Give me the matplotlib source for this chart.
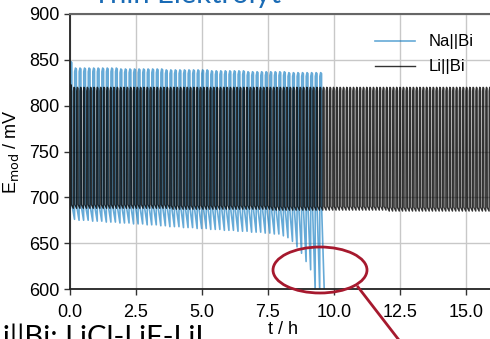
import numpy as np
import matplotlib
matplotlib.use("Agg")
import matplotlib.pyplot as plt
from matplotlib.patches import Ellipse
from matplotlib.lines import Line2D

plt.rcParams['font.family'] = ['Liberation Sans', 'DejaVu Sans']

# Na||Bi: one entry per charge/discharge cycle (mV)
na_period = 0.172  # h
na_top = [848, 841, 841, 841, 841, 841, 841, 841, 841, 841, 841,
          840, 840, 840, 840, 840, 840, 840, 840, 840, 840,
          839, 839, 839, 839, 839, 839, 839, 839, 839, 839,
          838, 838, 838, 838, 838, 838, 838, 838,
          837, 837, 837, 837, 837, 837, 837, 837, 837,
          836, 836, 836, 836, 836, 836, 836, 836]
na_knee = [691, 691, 691, 690, 690, 690, 690, 690, 690, 689, 689,
           689, 689, 689, 689, 688, 688, 688, 688, 688, 688,
           688, 687, 687, 687, 687, 687, 687, 686, 686, 686,
           686, 686, 686, 686, 685, 685, 685, 685,
           685, 685, 685, 685, 684, 684, 684, 684, 684,
           684, 684, 684, 684, 684, 684, 684, 684]
na_low = [676, 675, 675, 675, 674, 674, 674, 673, 673, 673, 672,
          672, 672, 671, 671, 671, 670, 670, 670, 669, 669,
          668, 668, 668, 667, 667, 667, 666, 666, 666, 665,
          665, 665, 664, 664, 664, 663, 663, 663,
          662, 662, 662, 661, 661, 660, 660, 658, 656,
          652, 646, 639, 630, 621, 598, 598, 598]

# Li||Bi
li_period = 0.126  # h
li_top = [823] + [820] * 129
li_knee = [692] * 30 + [691] * 30 + [690] * 35 + [689] * 35
li_low = [688] * 30 + [687] * 30 + [686] * 35 + [685] * 35

x_ticks = [0.0, 2.5, 5.0, 7.5, 10.0, 12.5, 15.0]
y_ticks = [600, 650, 700, 750, 800, 850, 900]


def cycles(period, top, knee, low):
    t = [0.0]
    v = [low[0]]
    for k in range(len(top)):
        t0 = k * period
        t += [t0 + 0.03 * period, t0 + 0.2 * period, t0 + 0.4 * period,
              t0 + 0.45 * period, t0 + period]
        v += [top[k] - 4, top[k], top[k] - 1, knee[k], low[k]]
    return np.array(t), np.array(v)


t_na, e_na = cycles(na_period, na_top, na_knee, na_low)
t_li, e_li = cycles(li_period, li_top, li_knee, li_low)

fig = plt.figure(figsize=(4.9, 3.39), dpi=100)
ax = fig.add_axes([70 / 490, 50 / 339, 425 / 490, 275 / 339])

ax.plot(t_na, e_na, color='#0072BD', alpha=0.6, lw=1.2, label='Na||Bi')
ax.plot(t_li, e_li, color='black', alpha=0.8, lw=1.0, label='Li||Bi')

ax.set_xlim(0, 16.1)
ax.set_ylim(600, 900)
ax.set_xticks(x_ticks)
ax.set_xticklabels(['%.1f' % x for x in x_ticks])
ax.set_yticks(y_ticks)
ax.tick_params(labelsize=13, length=4, width=1, color='#333333')
ax.tick_params(axis='x', pad=7)
ax.grid(True, color='#c8c8c8', lw=1)
ax.set_axisbelow(True)
for s in ['left', 'bottom']:
    ax.spines[s].set_linewidth(1.3)
    ax.spines[s].set_color('#222222')
ax.spines['top'].set_linewidth(1.5)
ax.spines['top'].set_color('#666666')
ax.set_xlabel('t / h', fontsize=13, labelpad=0)
ax.set_ylabel('E$_{\\mathrm{mod}}$ / mV', fontsize=13, labelpad=6)

ax.legend(loc='upper right', frameon=False, fontsize=12, handlelength=2.4,
          labelspacing=0.6, bbox_to_anchor=(0.985, 0.98))

fig.text(93 / 490, 1 - 3 / 339, 'Thin Elektrolyt', color='#1a6bb5',
         fontsize=21, va='baseline', ha='left', family='Lato')
fig.text(-12 / 490, -7 / 339, 'Li||Bi: LiCl-LiF-LiI', color='black',
         fontsize=21, va='baseline', ha='left', family='Lato')

fig.patches.append(Ellipse((320 / 490, 1 - 270 / 339), 94 / 490, 46 / 339,
                           transform=fig.transFigure, fill=False,
                           edgecolor='#a6192e', lw=2))
fig.lines.append(Line2D([358 / 490, 402 / 490], [1 - 287 / 339, 1 - 344 / 339],
                        transform=fig.transFigure, color='#a6192e', lw=2))

fig.savefig('out.png', dpi=100)
